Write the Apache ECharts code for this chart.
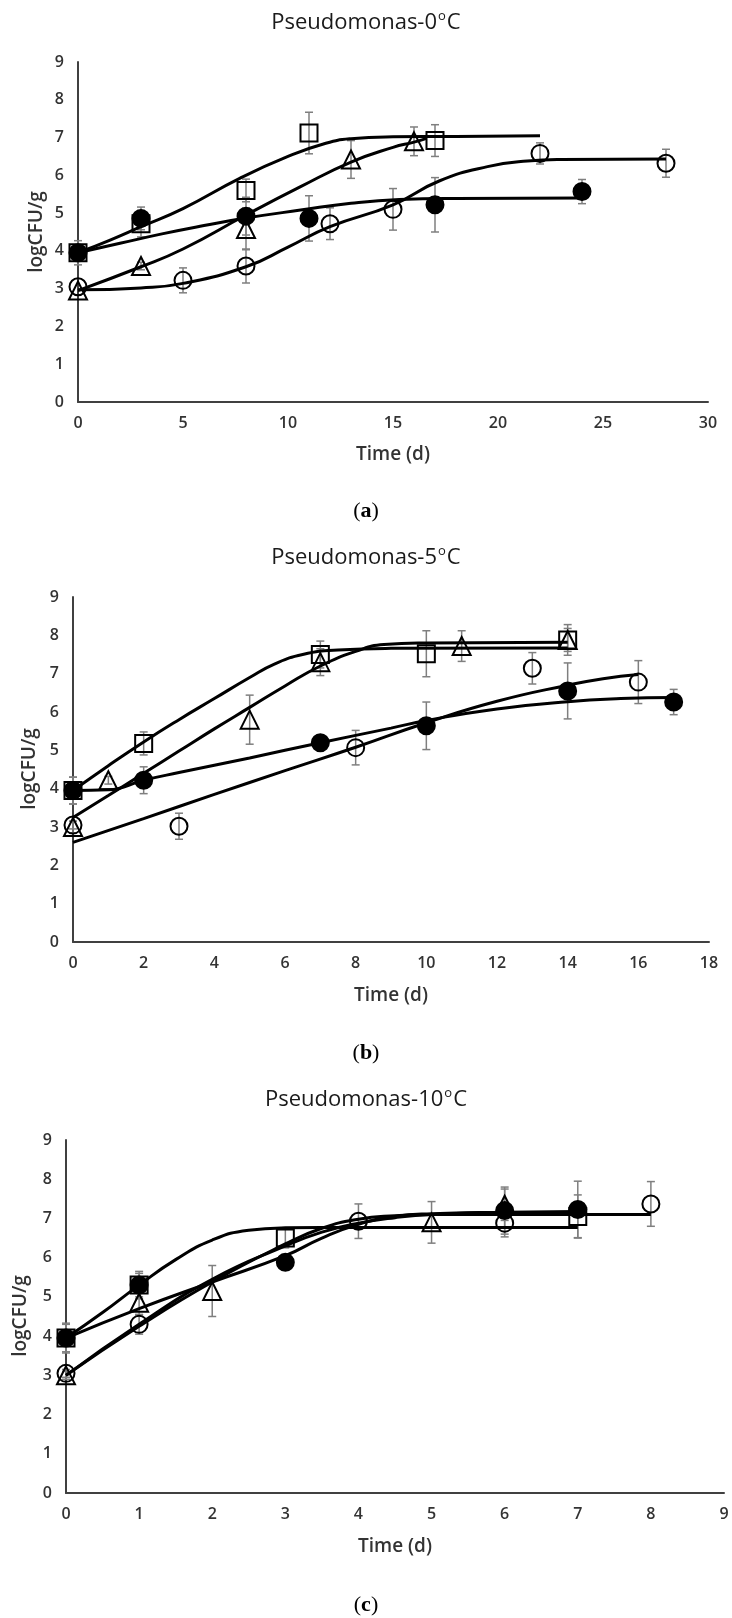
<!DOCTYPE html>
<html><head><meta charset="utf-8">
<script src="https://cdn.jsdelivr.net/npm/echarts@6/dist/echarts.min.js"></script>
<style>html,body{margin:0;padding:0;background:#fff}#c{width:732px;height:1618px}</style>
</head><body><div id="c"></div>
<script>
// ---- Panel (a) 0°C : [time, logCFU/g, error] ----
const a_square   = [[0,3.95,0.32],[3,4.72,0.35],[8,5.6,0.3],[11,7.12,0.55],[17,6.92,0.42]];
const a_triangle = [[0,2.95,0],[3,3.6,0.1],[8,4.58,0.55],[13,6.42,0.5],[16,6.9,0.38]];
const a_circle   = [[0,3.05,0],[5,3.22,0.33],[8,3.6,0.45],[12,4.72,0.42],[15,5.1,0.55],[22,6.58,0.28],[28,6.32,0.37]];
const a_filled   = [[0,3.95,0],[3,4.86,0.3],[8,4.92,0.5],[11,4.86,0.6],[17,5.22,0.72],[24,5.57,0.32]];
const a_square_fit   = [[0,3.95],[1.5,4.28],[3,4.64],[5,5.12],[7.7,5.92],[10,6.5],[11.8,6.85],[13,6.97],[15,7.02],[18,7.03],[22,7.05]];
const a_triangle_fit = [[0,2.95],[3,3.58],[5,4.05],[8,4.95],[10.6,5.7],[13,6.35],[15,6.74],[16,6.88],[16.6,6.98]];
const a_circle_fit   = [[0,2.97],[3,3.02],[5,3.14],[8,3.58],[10,4.1],[12,4.64],[15,5.22],[17.2,5.85],[19.5,6.23],[21.4,6.38],[23,6.42],[28,6.43]];
const a_filled_fit   = [[0,3.95],[2,4.2],[4,4.45],[6,4.67],[8,4.87],[10.6,5.08],[13,5.26],[15.3,5.36],[18,5.39],[24,5.4]];

// ---- Panel (b) 5°C ----
const b_square   = [[0,3.95,0.35],[2,5.18,0.3],[7,7.5,0.35],[10,7.52,0.6],[14,7.88,0.4]];
const b_triangle = [[0,3.0,0.15],[1,4.22,0.1],[5,5.8,0.64],[7,7.3,0.35],[11,7.72,0.4],[14,7.88,0.3]];
const b_circle   = [[0,3.05,0.1],[3,3.02,0.34],[8,5.07,0.45],[13,7.14,0.41],[16,6.78,0.56]];
const b_filled   = [[0,3.95,0.35],[2,4.22,0.35],[7,5.2,0],[10,5.64,0.62],[14,6.55,0.73],[17,6.26,0.33]];
const b_square_fit   = [[0,3.95],[1,4.6],[2,5.22],[3,5.8],[4,6.35],[5,6.9],[5.7,7.25],[6.5,7.5],[7.5,7.62],[9,7.66],[14,7.67]];
const b_triangle_fit = [[0,3.25],[1,3.82],[2,4.4],[3,4.98],[4,5.56],[5,6.12],[6,6.68],[7,7.2],[8,7.58],[8.8,7.76],[10,7.8],[14,7.82]];
const b_circle_fit   = [[0,2.6],[2,3.22],[4,3.85],[6,4.47],[8,5.08],[10,5.72],[12,6.28],[14,6.7],[15,6.87],[16,6.98]];
const b_filled_fit   = [[0,3.95],[1,3.97],[2,4.22],[3,4.42],[5,4.8],[7,5.2],[9,5.58],[10,5.78],[12,6.08],[14,6.27],[15.5,6.35],[17,6.38]];

// ---- Panel (c) 10°C ----
const c_square   = [[0,3.95,0.35],[1,5.3,0.35],[3,6.5,0.25],[7,7.05,0.55]];
const c_triangle = [[0,3.0,0.1],[1,4.85,0.3],[2,5.15,0.65],[5,6.9,0.53],[6,7.35,0.4]];
const c_circle   = [[0,3.05,0.1],[1,4.3,0.25],[4,6.93,0.44],[6,6.88,0.35],[8,7.37,0.57]];
const c_filled   = [[0,3.95,0.38],[1,5.3,0.3],[3,5.88,0],[6,7.2,0.6],[7,7.23,0.72]];
const c_square_fit   = [[0,3.95],[0.5,4.6],[1,5.3],[1.5,5.95],[2,6.45],[2.5,6.7],[3,6.76],[4,6.77],[7,6.77]];
const c_triangle_fit = [[0,3.0],[1,4.3],[2,5.45],[3,6.3],[3.5,6.65],[4,6.88],[4.5,7.02],[5,7.1],[6,7.15]];
const c_circle_fit   = [[0,3.0],[1,4.25],[2,5.38],[3,6.35],[3.5,6.75],[4,6.98],[4.5,7.07],[5,7.1],[8,7.1]];
const c_filled_fit   = [[0,3.95],[1,4.7],[2,5.38],[3,6.05],[3.5,6.5],[4,6.85],[4.5,7.05],[5,7.12],[6,7.16],[7,7.18]];

// ---- Axes / labels ----
const titles   = ['Pseudomonas-0', 'Pseudomonas-5', 'Pseudomonas-10'];
const captions = ['a', 'b', 'c'];
const xMax = [30, 18, 9];
const xStep = [5, 2, 1];
const yLabel = 'logCFU/g';
const xLabel = 'Time (d)';

const panels = [
  {sets:[[a_square,a_square_fit,'rect'],[a_triangle,a_triangle_fit,'triangle'],[a_circle,a_circle_fit,'circle'],[a_filled,a_filled_fit,'filled']]},
  {sets:[[b_square,b_square_fit,'rect'],[b_triangle,b_triangle_fit,'triangle'],[b_circle,b_circle_fit,'circle'],[b_filled,b_filled_fit,'filled']]},
  {sets:[[c_square,c_square_fit,'rect'],[c_triangle,c_triangle_fit,'triangle'],[c_circle,c_circle_fit,'circle'],[c_filled,c_filled_fit,'filled']]}
];

const layout = [
  {grid:{left:78, top:62, width:630, height:340}, title:[366,23], xname:[393,455], cap:[366,511], yname:[37,232]},
  {grid:{left:73, top:597, width:636, height:345}, title:[366,558], xname:[391,996], cap:[366,1053], yname:[30,769]},
  {grid:{left:66, top:1140, width:658, height:353}, title:[366,1100], xname:[395,1547], cap:[366,1605], yname:[21,1316]}
];

const FONT = '"Open Sans", sans-serif';
const grids = [], xAxes = [], yAxes = [], series = [], graphics = [];

layout.forEach((L, i) => {
  grids.push(Object.assign({containLabel:false}, L.grid));
  xAxes.push({type:'value', gridIndex:i, min:0, max:xMax[i], interval:xStep[i],
    axisLine:{show:true, onZero:false, lineStyle:{color:'#404040', width:2}},
    axisTick:{show:false}, splitLine:{show:false},
    axisLabel:{color:'#333', fontSize:16, fontWeight:600, fontFamily:FONT, margin:13}});
  yAxes.push({type:'value', gridIndex:i, min:0, max:9, interval:1,
    axisLine:{show:true, onZero:false, lineStyle:{color:'#404040', width:2}},
    axisTick:{show:false}, splitLine:{show:false},
    axisLabel:{color:'#333', fontSize:16, fontWeight:600, fontFamily:FONT, margin:14}});

  panels[i].sets.forEach(([pts, fit, sym]) => {
    // error bars
    series.push({type:'custom', xAxisIndex:i, yAxisIndex:i, z:1, silent:true,
      data: pts.filter(p => p[2] > 0).map(p => [p[0], p[1]-p[2], p[1]+p[2]]),
      renderItem: (params, api) => {
        const lo = api.coord([api.value(0), api.value(1)]);
        const hi = api.coord([api.value(0), api.value(2)]);
        const w = 4, st = {stroke:'#7f7f7f', lineWidth:1.5};
        return {type:'group', children:[
          {type:'line', shape:{x1:lo[0], y1:lo[1], x2:hi[0], y2:hi[1]}, style:st},
          {type:'line', shape:{x1:lo[0]-w, y1:lo[1], x2:lo[0]+w, y2:lo[1]}, style:st},
          {type:'line', shape:{x1:hi[0]-w, y1:hi[1], x2:hi[0]+w, y2:hi[1]}, style:st}
        ]};
      }});
    // fitted curve
    series.push({type:'line', xAxisIndex:i, yAxisIndex:i, z:2, silent:true, data:fit,
      smooth:0.5, showSymbol:false, symbol:'none',
      lineStyle:{color:'#000', width:3}});
    // observed points
    const filled = sym === 'filled';
    series.push({type:'scatter', xAxisIndex:i, yAxisIndex:i, z:3, silent:true,
      data: pts.map(p => [p[0], p[1]]),
      symbol: filled ? 'circle' : sym,
      symbolSize: sym === 'triangle' ? 18 : 17,
      itemStyle:{color: filled ? '#000' : 'rgba(0,0,0,0)', borderColor:'#000', borderWidth:2, opacity:1}});
  });

  graphics.push({type:'text', x:L.title[0], y:L.title[1], silent:true,
    style:{text:'{n|' + titles[i] + '}{s|o}{n|C}', align:'center', verticalAlign:'middle',
      rich:{n:{fontFamily:FONT, fontSize:22, fill:'#1a1a1a', lineHeight:27},
            s:{fontFamily:FONT, fontSize:13, fill:'#1a1a1a', verticalAlign:'top', lineHeight:13, padding:[0,1,10,1]}}}});
  graphics.push({type:'text', x:L.xname[0], y:L.xname[1], silent:true,
    style:{text:xLabel, align:'center', verticalAlign:'middle', font:'600 19px ' + FONT, fill:'#333'}});
  graphics.push({type:'text', x:L.yname[0], y:L.yname[1], rotation:Math.PI/2, silent:true,
    style:{text:yLabel, align:'center', verticalAlign:'middle', font:'600 19px ' + FONT, fill:'#333'}});
  graphics.push({type:'text', x:L.cap[0], y:L.cap[1], silent:true,
    style:{text:'{p|(}{b|' + captions[i] + '}{p|)}', align:'center', verticalAlign:'middle',
      rich:{p:{fontFamily:'"Liberation Serif", serif', fontSize:22, fill:'#000'},
            b:{fontFamily:'"Liberation Serif", serif', fontSize:22, fontWeight:'bold', fill:'#000'}}}});
});

const chart = echarts.init(document.getElementById('c'), null, {renderer:'canvas'});
chart.setOption({animation:false, backgroundColor:'#fff', grid:grids, xAxis:xAxes, yAxis:yAxes, series:series, graphic:graphics});
</script></body></html>
